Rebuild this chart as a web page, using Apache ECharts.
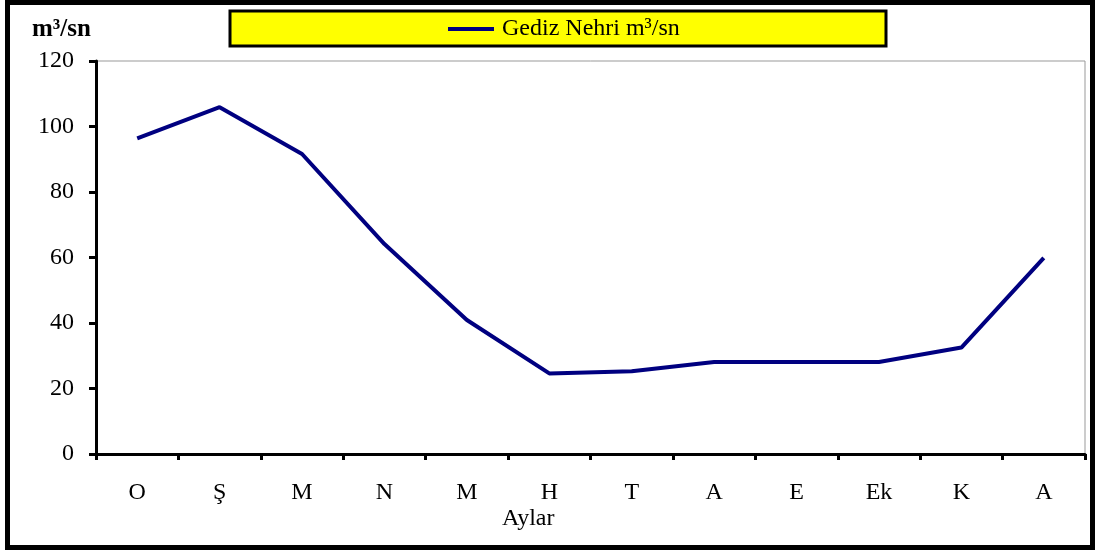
<!DOCTYPE html>
<html>
<head>
<meta charset="utf-8">
<script src="https://cdn.jsdelivr.net/npm/echarts@6/dist/echarts.min.js"></script>
<style>
  html, body { margin: 0; padding: 0; background: #fff; }
  #chart { width: 1095px; height: 551px; }
</style>
</head>
<body>
<div id="chart"></div>
<script>
// Aylık ortalama akım, Gediz Nehri (m³/sn)
const months = ['O', 'Ş', 'M', 'N', 'M', 'H', 'T', 'A', 'E', 'Ek', 'K', 'A'];
const flow = [96.4, 105.9, 91.6, 64.1, 40.9, 24.6, 25.3, 28.1, 28.1, 28.1, 32.5, 59.9];
const yTicks = { min: 0, max: 120, step: 20 };
const seriesName = 'Gediz Nehri m³/sn';
const unitLabel = 'm³/sn';
const xTitle = 'Aylar';

const FONT = '"Liberation Serif", "Times New Roman", serif';

const chart = echarts.init(document.getElementById('chart'), null, { renderer: 'canvas' });

chart.setOption({
  backgroundColor: '#ffffff',
  animation: false,
  grid: {
    left: 96, top: 61, width: 989, height: 393,
    show: true, borderColor: '#999999', borderWidth: 1, backgroundColor: 'transparent'
  },
  legend: {
    left: 443, top: 12,
    itemWidth: 46, itemHeight: 4, itemGap: 10,
    icon: 'rect',
    textStyle: { fontFamily: FONT, fontSize: 24, color: '#000', padding: [0, 0, 0, 3] },
    data: [seriesName]
  },
  xAxis: {
    type: 'category',
    data: months,
    boundaryGap: true,
    axisLine: { lineStyle: { color: '#000', width: 3 } },
    axisTick: { show: true, length: 6, lineStyle: { color: '#000', width: 3 } },
    axisLabel: { fontFamily: FONT, fontSize: 24, color: '#000', margin: 27 },
    splitLine: { show: false }
  },
  yAxis: {
    type: 'value',
    min: yTicks.min, max: yTicks.max, interval: yTicks.step,
    axisLine: { show: true, lineStyle: { color: '#000', width: 3 } },
    axisTick: { show: true, length: 7, lineStyle: { color: '#000', width: 3 } },
    axisLabel: { fontFamily: FONT, fontSize: 24, color: '#000', margin: 22 },
    splitLine: { show: false }
  },
  graphic: [
    {
      type: 'rect', z: -1, silent: true,
      shape: { x: 230, y: 11, width: 656, height: 35 },
      style: { fill: '#ffff00', stroke: '#000', lineWidth: 3 }
    },
    {
      type: 'rect', silent: true,
      shape: { x: 7.5, y: 2.5, width: 1085, height: 545 },
      style: { fill: 'none', stroke: '#000', lineWidth: 5 }
    },
    {
      type: 'text', left: 32, top: 17,
      style: { text: unitLabel, font: 'bold 25px ' + FONT, fill: '#000' }
    },
    {
      type: 'text', left: 502, top: 507,
      style: { text: xTitle, font: '24px ' + FONT, fill: '#000' }
    }
  ],
  series: [{
    name: seriesName,
    type: 'line',
    data: flow,
    showSymbol: false,
    symbol: 'none',
    itemStyle: { color: '#000080' },
    lineStyle: { color: '#000080', width: 4 }
  }]
});
</script>
</body>
</html>
